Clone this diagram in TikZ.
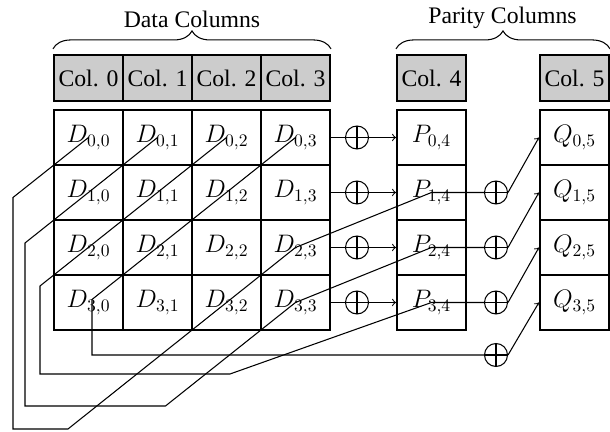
\documentclass[tikz,border=0pt]{standalone}
\usepackage{fix-cm}
\usepackage[no-math]{fontspec}
\setmainfont{Liberation Serif}
\usetikzlibrary{decorations.pathreplacing}

\tikzset{
    cell/.style={draw, very thick, minimum width=1.38cm, minimum height=1.1cm, inner sep=0pt,
        font=\fontsize{14.4}{17}\selectfont},
    colhead/.style={cell, fill=black!20, minimum height=0.92cm, font=\fontsize{13.5}{16}\selectfont},
    wire/.style={semithick},
    colbrace/.style={semithick, decorate, decoration={brace, amplitude=0.36cm}},
    xorgate/.style={circle, draw, semithick, minimum size=0.46cm, inner sep=0pt,
        path picture={\draw[semithick] (path picture bounding box.north) -- (path picture bounding box.south)
            (path picture bounding box.west) -- (path picture bounding box.east);}}
}

\begin{document}
\begin{tikzpicture}[font=\fontsize{13.5}{16}\selectfont]
    \useasboundingbox (0,0) rectangle (12.2,8.64);
    % headers
    \node[colhead] (h0) at (1.77, 7.08) {Col. 0};
    \node[colhead] (h1) at (3.15, 7.08) {Col. 1};
    \node[colhead] (h2) at (4.53, 7.08) {Col. 2};
    \node[colhead] (h3) at (5.91, 7.08) {Col. 3};
    \node[colhead] (h4) at (8.63, 7.08) {Col. 4};
    \node[colhead] (h5) at (11.49, 7.08) {Col. 5};
    \draw[colbrace] ([yshift=0.1cm]h0.north west) -- ([yshift=0.1cm]h3.north east);
    \draw[colbrace] ([yshift=0.1cm]h4.north west) -- ([yshift=0.1cm]h5.north east);
    \node (datalbl) at (3.84, 8.26) {Data Columns};
    \node (paritylbl) at (10.05, 8.28) {Parity Columns};
    % data cells
    \node[cell] (d00) at (1.77, 5.89) {$D_{0,0}$};
    \node[cell] (d01) at (3.15, 5.89) {$D_{0,1}$};
    \node[cell] (d02) at (4.53, 5.89) {$D_{0,2}$};
    \node[cell] (d03) at (5.91, 5.89) {$D_{0,3}$};
    \node[cell] (d10) at (1.77, 4.79) {$D_{1,0}$};
    \node[cell] (d11) at (3.15, 4.79) {$D_{1,1}$};
    \node[cell] (d12) at (4.53, 4.79) {$D_{1,2}$};
    \node[cell] (d13) at (5.91, 4.79) {$D_{1,3}$};
    \node[cell] (d20) at (1.77, 3.69) {$D_{2,0}$};
    \node[cell] (d21) at (3.15, 3.69) {$D_{2,1}$};
    \node[cell] (d22) at (4.53, 3.69) {$D_{2,2}$};
    \node[cell] (d23) at (5.91, 3.69) {$D_{2,3}$};
    \node[cell] (d30) at (1.77, 2.59) {$D_{3,0}$};
    \node[cell] (d31) at (3.15, 2.59) {$D_{3,1}$};
    \node[cell] (d32) at (4.53, 2.59) {$D_{3,2}$};
    \node[cell] (d33) at (5.91, 2.59) {$D_{3,3}$};
    % parity cells
    \node[cell] (p0) at (8.63, 5.89) {$P_{0,4}$};
    \node[cell] (p1) at (8.63, 4.79) {$P_{1,4}$};
    \node[cell] (p2) at (8.63, 3.69) {$P_{2,4}$};
    \node[cell] (p3) at (8.63, 2.59) {$P_{3,4}$};
    \node[cell] (q0) at (11.49, 5.89) {$Q_{0,5}$};
    \node[cell] (q1) at (11.49, 4.79) {$Q_{1,5}$};
    \node[cell] (q2) at (11.49, 3.69) {$Q_{2,5}$};
    \node[cell] (q3) at (11.49, 2.59) {$Q_{3,5}$};
    % xor
    \node[xorgate] (xp0) at (7.14, 5.89) {};
    \node[xorgate] (xp1) at (7.14, 4.79) {};
    \node[xorgate] (xp2) at (7.14, 3.69) {};
    \node[xorgate] (xp3) at (7.14, 2.59) {};
    \node[xorgate] (xq0) at (9.92, 4.79) {};
    \node[xorgate] (xq1) at (9.92, 3.69) {};
    \node[xorgate] (xq2) at (9.92, 2.59) {};
    \node[xorgate] (xq3) at (9.92, 1.54) {};
    % row parity
    \draw[wire] (d03) -- (xp0);
    \draw[wire] (d13) -- (xp1);
    \draw[wire] (d23) -- (xp2);
    \draw[wire] (d33) -- (xp3);
    \draw[wire, ->] (xp0) -- (p0);
    \draw[wire, ->] (xp1) -- (p1);
    \draw[wire, ->] (xp2) -- (p2);
    \draw[wire, ->] (xp3) -- (p3);
    % diagonal parity
    \coordinate (b0a) at (0.26, 4.69);
    \coordinate (b0b) at (1.36, 0.06);
    \coordinate (b1a) at (0.5, 3.78);
    \coordinate (b1b) at (3.31, 0.52);
    \coordinate (b2a) at (0.8, 2.92);
    \coordinate (b2b) at (4.6, 1.16);
    \coordinate (b3) at (1.84, 2.65);
    \draw[wire] (d00.center) -- (b0a) |- (b0b) -- (d23.center) -- (p1.center) -- (xq0);
    \draw[wire] (d01.center) -- (b1a) |- (b1b) -- (d33.center) -- (p2.center) -- (xq1);
    \draw[wire] (d02.center) -- (b2a) |- (b2b) -- (p3.center) -- (xq2);
    \draw[wire] (d03.center) -- (b3) |- (xq3);
    \draw[wire, ->] (xq0.east) -- (q0.west);
    \draw[wire, ->] (xq1.east) -- (q1.west);
    \draw[wire, ->] (xq2.east) -- (q2.west);
    \draw[wire, ->] (xq3.east) -- (q3.west);
\end{tikzpicture}
\end{document}
